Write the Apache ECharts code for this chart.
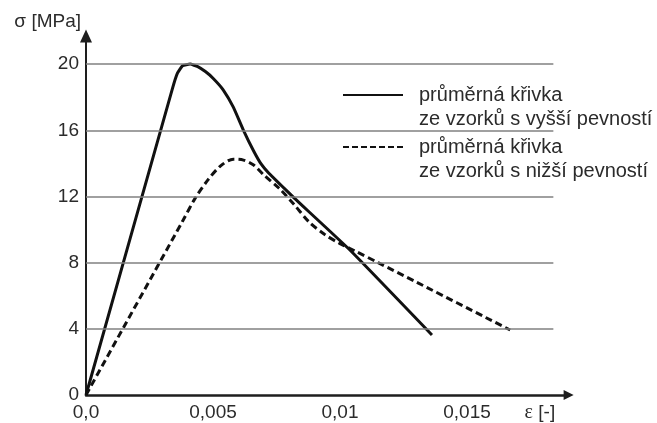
<!DOCTYPE html>
<html>
<head>
<meta charset="utf-8">
<script src="https://cdn.jsdelivr.net/npm/echarts@6/dist/echarts.min.js"></script>
<style>
  html, body { margin: 0; padding: 0; background: #fff; }
  #chart { width: 657px; height: 423px; }
</style>
</head>
<body>
<div id="chart"></div>
<script>
// Average stress–strain curves (strain ε [-], stress σ [MPa])
const seriesNames = [
  'průměrná křivka\nze vzorků s vyšší pevností',
  'průměrná křivka\nze vzorků s nižší pevností'
];

const highStrain = [0, 0.0034, 0.0036, 0.0038, 0.0041, 0.0044, 0.0047, 0.005,
  0.0054, 0.0058, 0.0062, 0.0066, 0.0069, 0.0072, 0.0077, 0.0082, 0.0104, 0.01362];
const highStress = [0, 18.5, 19.45, 19.9, 20.0, 19.85, 19.55, 19.15,
  18.45, 17.4, 16.0, 14.75, 13.95, 13.4, 12.65, 11.9, 8.75, 3.63];

const lowStrain = [0, 0.0038, 0.0043, 0.0048, 0.0053, 0.0058, 0.0062, 0.0066,
  0.007, 0.0076, 0.0082, 0.0088, 0.0094, 0.01, 0.0106, 0.0115, 0.013, 0.0167];
const lowStress = [0, 10.5, 11.9, 13.0, 13.85, 14.25, 14.2, 13.9,
  13.3, 12.5, 11.5, 10.43, 9.7, 9.15, 8.7, 8.0, 6.83, 3.93];

const xTicks = [0, 0.005, 0.01, 0.015];
const xTickLabels = ['0,0', '0,005', '0,01', '0,015'];
const yTicks = [0, 4, 8, 12, 16, 20];
const yTickLabels = ['0', '4', '8', '12', '16', '20'];

const textColor = '#2b2b2b';
const fontFamily = '"Liberation Sans", Arial, sans-serif';

function tickLabel(ticks, labels) {
  return function (v) {
    for (let i = 0; i < ticks.length; i++) {
      if (Math.abs(v - ticks[i]) < 1e-9) return labels[i];
    }
    return '';
  };
}

function pairs(xs, ys) {
  return xs.map((x, i) => [x, ys[i]]);
}

// legend keys show only the line, no marker
const noMarker = { color: 'transparent', borderColor: 'transparent', borderWidth: 0 };

const chart = echarts.init(document.getElementById('chart'), null, { renderer: 'canvas' });

chart.setOption({
  animation: false,
  backgroundColor: '#ffffff',
  textStyle: { fontFamily: fontFamily, color: textColor },
  grid: { left: 86, top: 36, right: 88.4, bottom: 28, containLabel: false },
  xAxis: {
    type: 'value',
    min: 0,
    max: 0.019,
    interval: 0.005,
    name: '{e|ε} [-]',
    nameLocation: 'end',
    nameGap: -44,
    nameTextStyle: {
      fontSize: 19, color: textColor, align: 'left', verticalAlign: 'top', padding: [8, 0, 0, 0],
      rich: { e: { fontFamily: '"Liberation Serif", serif', fontSize: 20, color: textColor } }
    },
    axisLine: {
      lineStyle: { color: '#1e1e1e', width: 2.5 },
      symbol: ['none', 'triangle'],
      symbolSize: [10, 10]
    },
    axisTick: { show: false },
    splitLine: { show: false },
    axisLabel: {
      fontSize: 19, color: textColor, margin: 8,
      showMaxLabel: false,
      formatter: tickLabel(xTicks, xTickLabels)
    }
  },
  yAxis: {
    type: 'value',
    min: 0,
    max: 21.7,
    interval: 4,
    name: 'σ [MPa]',
    nameLocation: 'end',
    nameGap: 5,
    nameTextStyle: { fontSize: 19, color: textColor, align: 'right', padding: [0, 5, 0, 0] },
    axisLine: {
      lineStyle: { color: '#1e1e1e', width: 2 },
      symbol: ['none', 'triangle'],
      symbolSize: [12, 13]
    },
    axisTick: { show: false },
    splitLine: { show: false },
    axisLabel: {
      fontSize: 19, color: textColor, margin: 7,
      showMaxLabel: false,
      formatter: tickLabel(yTicks, yTickLabels)
    }
  },
  legend: {
    orient: 'vertical',
    left: 342,
    top: 59,
    padding: 0,
    itemWidth: 60,
    itemHeight: 14,
    itemGap: -20,
    selectedMode: false,
    itemStyle: noMarker,
    // a blank first line keeps the key line level with the first text line
    formatter: name => ' \n' + name,
    textStyle: { fontSize: 20, lineHeight: 24, color: textColor, padding: [0, 0, 0, 11] },
    data: [
      { name: seriesNames[0], itemStyle: noMarker },
      { name: seriesNames[1], itemStyle: noMarker, lineStyle: { type: [6, 3] } }
    ]
  },
  series: [
    {
      // horizontal reference lines at the stress ticks
      name: 'mřížka',
      type: 'line',
      data: [],
      z: 1,
      silent: true,
      markLine: {
        silent: true,
        symbol: 'none',
        label: { show: false },
        lineStyle: { color: '#808080', width: 1.5, type: 'solid' },
        data: yTicks.filter(v => v > 0).map(v => [{ coord: [0, v] }, { coord: [0.0184, v] }])
      }
    },
    {
      name: seriesNames[0],
      type: 'line',
      z: 3,
      symbol: 'none',
      smooth: 0.12,
      lineStyle: { color: '#111', width: 3, type: 'solid' },
      itemStyle: { color: '#111' },
      data: pairs(highStrain, highStress)
    },
    {
      name: seriesNames[1],
      type: 'line',
      z: 3,
      symbol: 'none',
      smooth: 0.3,
      lineStyle: { color: '#111', width: 3, type: [7, 4] },
      itemStyle: { color: '#111' },
      data: pairs(lowStrain, lowStress)
    }
  ]
});
</script>
</body>
</html>
